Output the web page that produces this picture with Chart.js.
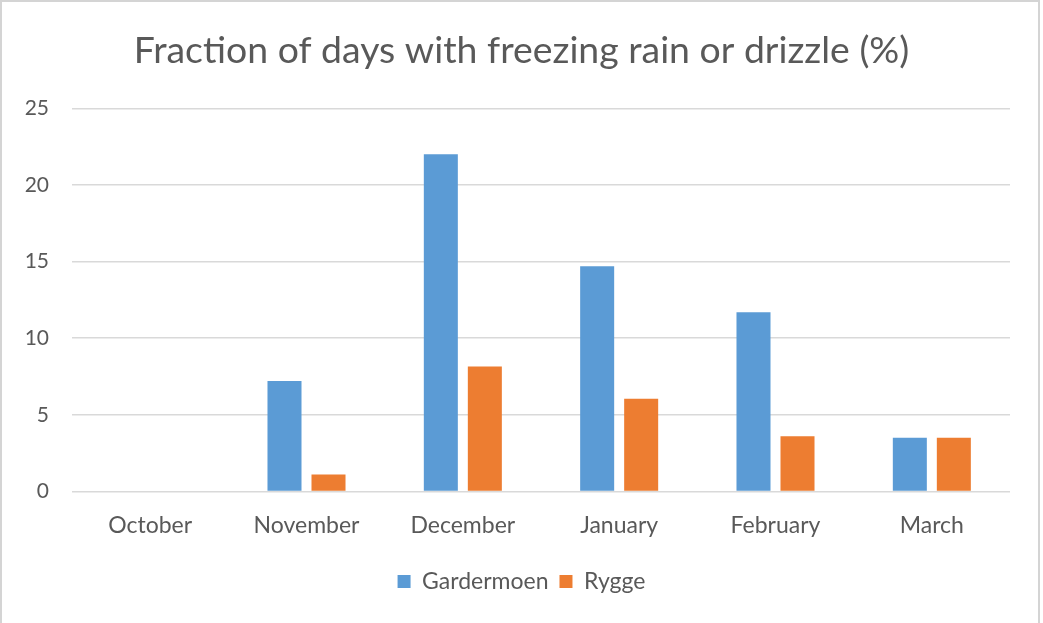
<!DOCTYPE html>
<html>
<head>
<meta charset="utf-8">
<script src="https://cdn.jsdelivr.net/npm/chart.js@4"></script>
<style>
  html, body { margin: 0; padding: 0; background: #fff; }
  #wrap { position: absolute; left: 0; top: 0; width: 1043px; height: 623px; }
  #frame { position: absolute; left: 0; top: 0; width: 1036px; height: 640px; border: 2px solid #d4d4d4; pointer-events: none; }
  canvas { position: absolute; left: 0; top: 0; }
</style>
</head>
<body>
<div id="wrap">
  <canvas id="c" width="1043" height="623"></canvas>
  <div id="frame"></div>
</div>
<script>
const categories = ["October", "November", "December", "January", "February", "March"];
const gardermoen = [0, 7.2, 22.0, 14.7, 11.7, 3.5];
const rygge = [0, 1.1, 8.15, 6.05, 3.6, 3.5];
const yTicks = [0, 5, 10, 15, 20, 25];

const FONT = "Lato, 'Open Sans', sans-serif";
const GRAY = "#595959";

new Chart(document.getElementById("c"), {
  type: "bar",
  data: {
    labels: categories,
    datasets: [
      { label: "Gardermoen", data: gardermoen, backgroundColor: "#5B9BD5", barPercentage: 0.773, categoryPercentage: 0.563 },
      { label: "Rygge", data: rygge, backgroundColor: "#ED7D31", barPercentage: 0.773, categoryPercentage: 0.563 }
    ]
  },
  options: {
    responsive: false,
    animation: false,
    layout: { padding: { left: 0, right: 0, top: 0, bottom: 20 } },
    plugins: {
      title: {
        display: true,
        text: "Fraction of days with freezing rain or drizzle (%)",
        color: GRAY,
        font: { family: FONT, size: 37.4, weight: "normal" },
        padding: { top: 28, bottom: 35.5 }
      },
      legend: {
        position: "bottom",
        labels: {
          color: GRAY,
          font: { family: FONT, size: 23 },
          boxWidth: 13, boxHeight: 13,
          padding: 11
        }
      },
      tooltip: { enabled: false }
    },
    scales: {
      x: {
        grid: { display: false, drawTicks: false },
        border: { display: false },
        ticks: { color: GRAY, font: { family: FONT, size: 23 }, padding: 20 }
      },
      y: {
        min: 0, max: 25,
        afterBuildTicks: (s) => { s.ticks = yTicks.map(v => ({ value: v })); },
        afterFit: (s) => { s.width = 72; },
        grid: { color: "#d9d9d9", lineWidth: 1.5, drawTicks: false },
        border: { display: false },
        ticks: { color: GRAY, font: { family: FONT, size: 21 }, padding: 23 }
      },
      yRight: {
        position: "right",
        min: 0, max: 25,
        afterFit: (s) => { s.width = 33; },
        grid: { display: false, drawTicks: false },
        border: { display: false },
        ticks: { display: false }
      }
    }
  }
});
</script>
</body>
</html>
